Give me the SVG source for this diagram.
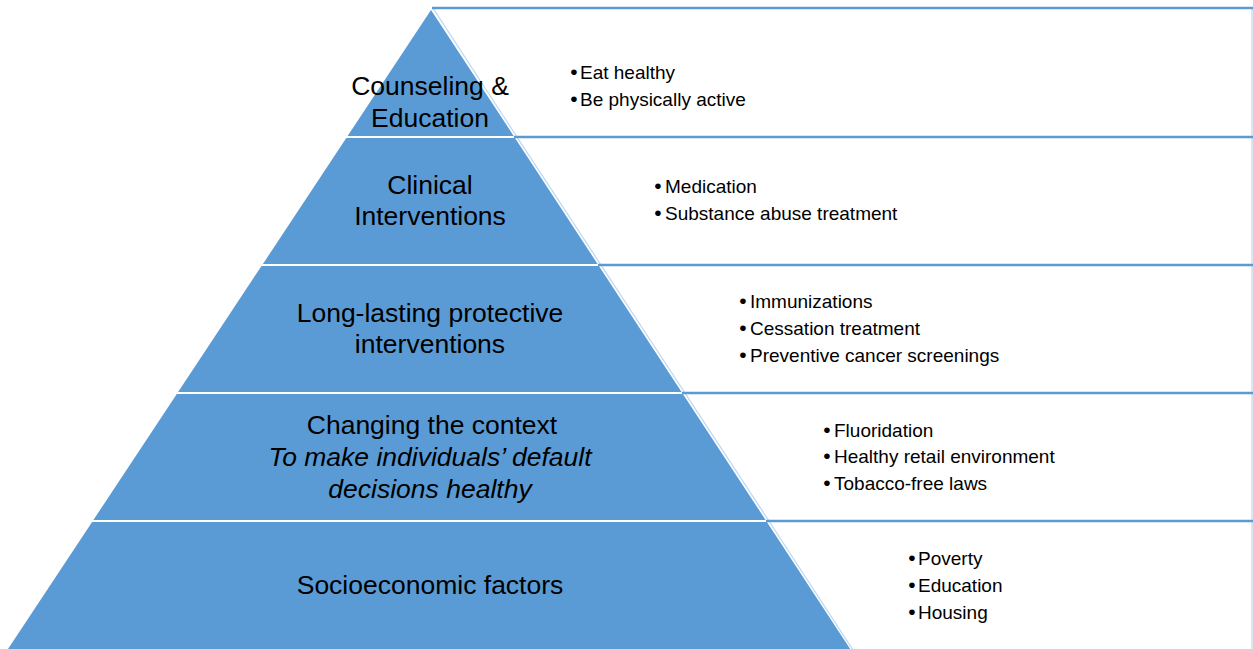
<svg xmlns="http://www.w3.org/2000/svg" width="1253" height="649" viewBox="0 0 1253 649">
<style>
.lvl{fill:#5b9bd5}
.hl{stroke:#5b9bd5;stroke-width:2.6;fill:none}
.side{stroke:#bdd7ee;stroke-width:1.2;fill:none}
.t{font-family:"Liberation Sans",Arial,sans-serif;font-size:26.5px;fill:#000;text-anchor:middle}
.it{font-style:italic}
.b{font-family:"Liberation Sans",Arial,sans-serif;font-size:19px;fill:#000}
.dot{font-family:"Liberation Sans",Arial,sans-serif;font-size:21px;fill:#000;text-anchor:middle}
</style>
<rect width="1253" height="649" fill="#ffffff"/>
<g id="boxes">
<g id="box1">
<polygon points="433,8 1252,8 1252,137 517,137" fill="#fff" class="side"/>
<line x1="432" y1="8" x2="1253" y2="8" class="hl"/>
<text class="dot" x="574" y="79">•</text><text class="b" x="580" y="79">Eat healthy</text>
<text class="dot" x="574" y="106">•</text><text class="b" x="580" y="106">Be physically active</text>
</g>
<g id="box2">
<polygon points="517,137 1252,137 1252,265 601,265" fill="#fff" class="side"/>
<line x1="514" y1="137" x2="1253" y2="137" class="hl"/>
<text class="dot" x="658" y="193">•</text><text class="b" x="665" y="193">Medication</text>
<text class="dot" x="658" y="220">•</text><text class="b" x="665" y="220">Substance abuse treatment</text>
</g>
<g id="box3">
<polygon points="601,265 1252,265 1252,393 685,393" fill="#fff" class="side"/>
<line x1="598" y1="265" x2="1253" y2="265" class="hl"/>
<text class="dot" x="743" y="308">•</text><text class="b" x="750" y="308">Immunizations</text>
<text class="dot" x="743" y="335">•</text><text class="b" x="750" y="335">Cessation treatment</text>
<text class="dot" x="743" y="362">•</text><text class="b" x="750" y="362">Preventive cancer screenings</text>
</g>
<g id="box4">
<polygon points="685,393 1252,393 1252,521 769,521" fill="#fff" class="side"/>
<line x1="682" y1="393" x2="1253" y2="393" class="hl"/>
<text class="dot" x="827" y="437">•</text><text class="b" x="834" y="437">Fluoridation</text>
<text class="dot" x="827" y="463">•</text><text class="b" x="834" y="463">Healthy retail environment</text>
<text class="dot" x="827" y="490">•</text><text class="b" x="834" y="490">Tobacco-free laws</text>
</g>
<g id="box5">
<polyline points="769,521 853,650" class="side"/>
<line x1="1252" y1="521" x2="1252" y2="649" class="side"/>
<line x1="766" y1="521" x2="1253" y2="521" class="hl"/>
<text class="dot" x="912" y="565">•</text><text class="b" x="918" y="565">Poverty</text>
<text class="dot" x="912" y="592">•</text><text class="b" x="918" y="592">Education</text>
<text class="dot" x="912" y="619">•</text><text class="b" x="918" y="619">Housing</text>
</g>
</g>
<g id="pyramid">
<g id="level1">
<polygon class="lvl" points="431,10 513.7,136 347.6,136"/>
<text class="t" x="430" y="95">Counseling &amp;</text>
<text class="t" x="430" y="127">Education</text>
</g>
<g id="level2">
<polygon class="lvl" points="346.3,138 515,138 597.6,264 262.9,264"/>
<text class="t" x="430" y="194">Clinical</text>
<text class="t" x="430" y="225">Interventions</text>
</g>
<g id="level3">
<polygon class="lvl" points="261.5,266 598.9,266 681.6,392 178.1,392"/>
<text class="t" x="430" y="322">Long-lasting protective</text>
<text class="t" x="430" y="353">interventions</text>
</g>
<g id="level4">
<polygon class="lvl" points="176.8,394 682.9,394 765.6,520 93.4,520"/>
<text class="t" x="432" y="434">Changing the context</text>
<text class="t it" x="430" y="466">To make individuals’ default</text>
<text class="t it" x="430" y="498">decisions healthy</text>
</g>
<g id="level5">
<polygon class="lvl" points="92.1,522 766.9,522 850.2,649 8,649"/>
<text class="t" x="430" y="594">Socioeconomic factors</text>
</g>
</g>
</svg>
